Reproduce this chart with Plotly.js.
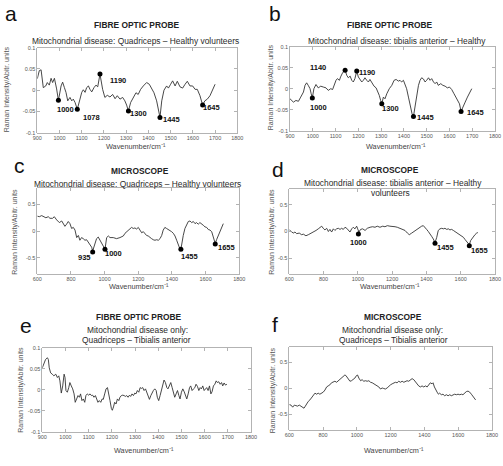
<!DOCTYPE html>
<html><head><meta charset="utf-8">
<script src="https://cdn.plot.ly/plotly-3.0.1.min.js"></script>
<style>html,body{margin:0;padding:0;background:#fff;overflow:hidden}#chart{width:503px;height:466px}</style>
</head><body><div id="chart"></div>
<script>
// ---------------- DATA ----------------
// Panel a: fibre optic probe, quadriceps - healthy
const aWave = [900,909,917,927,938,945,954,962,969,977,987,995,1007,1014,1022,1029,1037,1047,1055,1062,1070,1080,1092,1100,1107,1115,1122,1130,1137,1145,1155,1164,1172,1178,1182,1194,1204,1215,1227,1239,1250,1260,1272,1284,1294,1302,1310,1320,1332,1344,1354,1365,1377,1392,1404,1414,1425,1437,1446,1452,1460,1470,1482,1490,1500,1509,1520,1530,1542,1554,1565,1575,1587,1599,1610,1620,1632,1638,1644,1654,1665,1677,1689,1700];
const aInt = [0.027,0.046,0.048,0.006,0.010,0.018,0.012,0.028,0.018,0.028,0.003,-0.024,0.010,0.019,0.006,-0.005,-0.025,-0.017,-0.025,-0.021,-0.029,-0.045,-0.021,-0.005,0.001,-0.005,0.006,0.010,0.002,-0.004,0.006,0.012,0.008,0.024,0.038,0.002,-0.017,-0.012,-0.016,-0.010,-0.020,-0.013,-0.021,-0.017,-0.025,-0.035,-0.049,-0.029,-0.017,-0.006,-0.010,0.002,0.010,0.018,0.014,0.006,-0.006,-0.025,-0.050,-0.064,-0.025,0.000,0.010,0.005,0.014,0.022,0.010,0.021,0.008,0.005,0.014,0.021,0.010,0.010,0.002,0.002,-0.013,-0.025,-0.035,-0.025,-0.021,-0.013,0.002,0.014];
const aPeakWave = [995,1080,1182,1310,1452,1644];
const aPeakInt = [-0.0235,-0.045,0.038,-0.049,-0.064,-0.035];
const aPeakLabel = ['1000','1078','1190','1300','1445','1645'];

// Panel b: fibre optic probe, tibialis anterior - healthy
const bWave = [900,907,915,926,937,947,959,966,973,980,988,993,998,1005,1014,1024,1035,1046,1058,1068,1079,1087,1093,1102,1108,1117,1122,1131,1142,1149,1156,1164,1171,1178,1185,1193,1200,1207,1215,1222,1229,1237,1244,1251,1259,1269,1278,1285,1292,1298,1303,1310,1317,1325,1336,1347,1357,1366,1376,1383,1390,1398,1405,1412,1420,1427,1436,1442,1449,1456,1464,1471,1478,1486,1493,1500,1508,1515,1522,1530,1537,1544,1551,1562,1571,1581,1591,1600,1610,1620,1632,1644,1651,1658,1669,1679,1688,1698];
const bInt = [-0.024,-0.028,-0.032,-0.028,-0.030,-0.020,-0.008,0.008,0.014,0.008,0.000,-0.012,-0.022,0.000,0.010,0.002,0.006,0.004,0.002,-0.004,0.000,-0.002,0.008,0.020,0.024,0.020,0.028,0.038,0.044,0.032,0.026,0.030,0.020,0.016,0.024,0.042,0.028,0.022,0.016,0.020,0.026,0.020,0.016,0.022,0.014,0.006,0.002,-0.006,-0.016,-0.028,-0.036,-0.020,-0.024,-0.012,0.000,0.008,0.020,0.022,0.018,0.020,0.016,0.020,0.012,0.000,-0.020,-0.040,-0.060,-0.066,-0.044,-0.016,0.008,0.020,0.026,0.023,0.016,0.020,0.026,0.020,0.024,0.016,0.012,0.016,0.008,0.012,0.008,0.006,0.002,0.004,-0.002,-0.012,-0.024,-0.036,-0.054,-0.044,-0.032,-0.020,-0.010,0.000];
const bPeakWave = [998,1142,1193,1303,1442,1651];
const bPeakInt = [-0.022,0.044,0.042,-0.036,-0.066,-0.054];
const bPeakLabel = ['1000','1140','1190','1300','1445','1645'];

// Panel c: microscope, quadriceps - healthy
const cWave = [600,612,626,636,651,665,675,691,701,715,731,745,754,764,774,784,794,804,814,824,834,844,853,863,873,883,893,903,913,923,929,936,943,952,962,972,982,992,1002,1012,1022,1032,1051,1071,1091,1111,1121,1131,1141,1150,1160,1170,1180,1190,1200,1210,1220,1230,1240,1249,1259,1269,1279,1289,1299,1309,1319,1329,1339,1348,1358,1368,1378,1388,1398,1408,1418,1428,1438,1447,1453,1457,1467,1477,1487,1497,1507,1517,1527,1537,1546,1556,1566,1576,1586,1596,1606,1616,1626,1636,1645,1651,1657,1665,1675,1689,1705];
const cInt = [0.28,0.27,0.29,0.27,0.25,0.27,0.24,0.24,0.27,0.21,0.16,0.19,0.13,0.09,0.13,0.18,0.14,0.05,0.07,0.02,-0.12,-0.08,-0.17,-0.12,-0.14,-0.17,-0.16,-0.20,-0.24,-0.30,-0.37,-0.31,-0.23,-0.14,-0.11,-0.16,-0.22,-0.28,-0.34,-0.12,-0.09,-0.12,-0.12,-0.14,-0.12,-0.09,-0.04,-0.01,0.03,0.05,0.07,0.05,0.06,0.04,0.07,0.02,-0.03,-0.01,-0.06,-0.08,-0.09,-0.12,-0.14,-0.16,-0.17,-0.16,-0.17,-0.14,-0.08,0.02,0.07,0.05,0.03,0.02,-0.01,-0.04,-0.09,-0.17,-0.26,-0.33,-0.34,-0.26,-0.08,0.05,0.13,0.18,0.19,0.16,0.18,0.14,0.16,0.13,0.16,0.14,0.11,0.08,0.07,0.03,0.02,-0.01,-0.09,-0.16,-0.23,-0.16,-0.08,0.05,0.14];
const cPeakWave = [929,1002,1453,1657];
const cPeakInt = [-0.39,-0.34,-0.34,-0.24];
const cPeakLabel = ['935','1000','1455','1655'];

// Panel d: microscope, tibialis anterior - healthy
const dWave = [600,614,623,633,643,658,672,682,697,711,724,740,756,769,779,789,798,808,818,828,837,847,857,866,876,886,896,905,915,925,935,944,954,964,973,983,993,999,1006,1016,1028,1042,1055,1071,1086,1100,1113,1129,1145,1158,1172,1187,1203,1217,1230,1246,1261,1275,1289,1300,1314,1327,1343,1359,1372,1382,1392,1401,1411,1421,1430,1440,1450,1460,1469,1479,1489,1499,1508,1518,1528,1537,1547,1557,1567,1576,1586,1596,1606,1616,1625,1635,1645,1650,1658,1670,1683,1693,1700];
const dInt = [0.03,0.00,-0.03,-0.01,-0.04,-0.03,-0.06,-0.05,-0.08,-0.06,-0.04,-0.01,0.02,0.05,0.08,0.10,0.06,0.03,0.06,0.00,0.04,-0.01,0.05,0.02,0.05,0.06,0.04,0.06,0.04,0.08,0.06,0.02,-0.01,0.05,0.08,0.05,0.10,0.05,-0.01,0.04,0.05,0.02,0.06,0.08,0.09,0.08,0.10,0.08,0.10,0.09,0.11,0.10,0.10,0.09,0.08,0.06,0.04,0.02,-0.03,-0.06,-0.03,0.00,0.04,0.06,0.10,0.11,0.08,0.04,0.00,-0.04,-0.09,-0.14,-0.21,-0.11,0.02,0.05,0.06,0.05,0.06,0.04,0.05,0.03,0.04,0.02,0.00,-0.03,-0.04,-0.06,-0.09,-0.11,-0.15,-0.19,-0.22,-0.25,-0.17,-0.11,-0.06,-0.03,-0.02];
const dPeakWave = [1003,1450,1650];
const dPeakInt = [-0.045,-0.22,-0.27];
const dPeakLabel = ['1000','1455','1655'];

// Panel e: fibre optic probe, mitochondrial disease only
const eWave = [900,907,914,922,926,930,936,943,950,958,965,971,976,982,988,994,998,1002,1008,1014,1019,1025,1031,1037,1042,1048,1054,1060,1065,1071,1077,1083,1088,1094,1100,1106,1112,1117,1123,1129,1135,1140,1146,1152,1158,1163,1169,1175,1181,1186,1192,1198,1202,1207,1212,1218,1224,1230,1235,1241,1247,1253,1258,1264,1270,1276,1281,1287,1293,1299,1304,1310,1316,1322,1327,1333,1339,1345,1350,1356,1362,1368,1373,1379,1385,1391,1396,1402,1408,1414,1419,1425,1431,1437,1442,1448,1454,1460,1465,1471,1477,1483,1489,1494,1500,1506,1512,1517,1523,1529,1535,1540,1546,1552,1558,1563,1569,1575,1581,1586,1592,1598,1604,1609,1615,1621,1627,1632,1638,1644,1650,1655,1661,1667,1673,1678,1684,1690,1696];
const eInt = [0.052,0.064,0.072,0.076,0.072,0.052,0.040,0.037,0.033,0.037,0.029,0.033,0.021,-0.008,0.009,0.037,0.029,-0.002,-0.006,0.005,0.017,0.009,0.002,-0.010,-0.030,-0.022,-0.014,-0.018,-0.010,-0.026,-0.022,-0.030,-0.014,-0.010,-0.013,-0.010,-0.014,-0.013,-0.018,-0.014,-0.022,-0.030,-0.026,-0.030,-0.022,-0.023,-0.010,0.002,0.005,-0.006,-0.026,-0.045,-0.049,-0.041,-0.030,-0.034,-0.022,-0.026,-0.018,-0.014,-0.013,-0.014,-0.016,-0.014,-0.018,-0.013,-0.016,-0.010,-0.014,-0.008,-0.010,-0.002,-0.006,0.005,0.003,0.005,-0.002,0.002,-0.006,-0.018,-0.023,-0.014,-0.008,-0.002,0.002,-0.002,-0.018,-0.026,-0.014,0.002,0.013,0.023,0.017,0.005,0.002,0.009,0.017,0.005,-0.006,-0.018,-0.010,-0.002,-0.014,-0.022,-0.006,0.002,-0.005,-0.013,-0.022,-0.010,0.005,0.009,-0.002,0.002,0.005,0.013,0.008,-0.002,0.005,0.002,0.009,-0.002,0.002,0.005,-0.002,0.009,-0.010,-0.005,0.009,0.013,0.021,0.017,0.019,0.013,0.017,0.009,0.016,0.011,0.013];

// Panel f: microscope, mitochondrial disease only
const fWave = [600,610,620,630,639,649,659,669,679,687,695,702,712,722,732,742,752,762,771,781,791,801,811,821,830,840,850,860,870,880,890,899,909,919,929,935,943,951,959,968,978,988,998,1004,1012,1022,1031,1041,1051,1061,1071,1081,1091,1100,1110,1120,1130,1140,1150,1159,1169,1179,1189,1199,1209,1219,1228,1238,1248,1258,1268,1278,1288,1297,1307,1317,1327,1337,1347,1357,1366,1376,1386,1396,1406,1416,1425,1435,1445,1451,1459,1467,1475,1483,1490,1500,1510,1520,1530,1540,1550,1559,1569,1579,1589,1599,1609,1619,1628,1638,1648,1658,1668,1678,1687,1697,1703];
const fInt = [-0.31,-0.32,-0.36,-0.32,-0.33,-0.34,-0.32,-0.34,-0.37,-0.38,-0.34,-0.30,-0.25,-0.22,-0.17,-0.12,-0.09,-0.11,-0.09,-0.11,-0.09,-0.07,-0.03,0.03,0.05,0.07,0.11,0.12,0.14,0.12,0.15,0.17,0.20,0.23,0.26,0.25,0.22,0.17,0.14,0.15,0.17,0.20,0.25,0.26,0.20,0.15,0.17,0.14,0.15,0.14,0.15,0.12,0.11,0.09,0.07,0.06,0.03,-0.01,0.01,0.00,-0.01,0.01,0.05,0.07,0.09,0.11,0.12,0.11,0.14,0.12,0.14,0.12,0.14,0.15,0.14,0.17,0.19,0.17,0.12,0.07,0.05,0.03,0.05,0.03,0.05,0.03,0.06,0.11,0.09,0.11,0.03,-0.03,-0.07,-0.11,-0.09,-0.12,-0.11,-0.14,-0.12,-0.14,-0.12,-0.14,-0.12,-0.11,-0.12,-0.11,-0.12,-0.11,-0.12,-0.09,-0.06,-0.05,-0.07,-0.11,-0.15,-0.20,-0.22];

// Tick labels
const probeXTicks = [900,1000,1100,1200,1300,1400,1500,1600,1700,1800];
const probeYTicks = [-0.1,-0.05,0,0.05,0.1];
const probeYTickText = ['-0.1','-0.05','0','0.05','0.1'];
const scopeXTicks = [600,800,1000,1200,1400,1600,1800];
const scopeYTicks = [-0.5,0,0.5];
const scopeYTickText = ['-0.5','0','0.5'];

// Texts
const panelLetters = ['a','b','c','d','e','f'];
const panelHeads = ['FIBRE OPTIC PROBE','FIBRE OPTIC PROBE','MICROSCOPE','MICROSCOPE','FIBRE OPTIC PROBE','MICROSCOPE'];
const panelSubs = [
  ['Mitochondrial disease: Quadriceps \u2013 Healthy volunteers'],
  ['Mitochondrial disease: tibialis anterior \u2013 Healthy'],
  ['Mitochondrial disease: Quadriceps \u2013 Healthy volunteers'],
  ['Mitochondrial disease: tibialis anterior \u2013 Healthy','volunteers'],
  ['Mitochondrial disease only:','Quadriceps \u2013 Tibialis anterior'],
  ['Mitochondrial disease only:','Quadriceps \u2013 Tibialis anterior']
];
const xTitle = 'Wavenumber/cm\u207B\u00B9';
const yTitle = 'Raman Intensity/Abitr. units';

// ---------------- LAYOUT (pixel geometry) ----------------
const W = 503, H = 466;
const FONT = 'Liberation Sans, Arial, Helvetica, sans-serif';
const boxes = [
  {x0:37.3, x1:237.3, y0:47.7, y1:132.7},
  {x0:290,  x1:495,   y0:46.7, y1:130.7},
  {x0:37.3, x1:239.3, y0:188.3,y1:274},
  {x0:289.3,x1:495,   y0:189,  y1:274},
  {x0:42.3, x1:251,   y0:347.7,y1:431.7},
  {x0:289.3,x1:492,   y0:347,  y1:430}
];
const letterPos = [[11.3,13],[274.7,13.5],[19,165.5],[277.5,169.5],[26.3,325],[275,324.5]];
const headPos = [[137,25],[390,25],[140,170.7],[390,170],[139,316.7],[393.3,316.7]];
const subPos = [
  [[135.8,40.7]],
  [[396.7,40.7]],
  [[137.3,183.8]],
  [[393,183.3],[390.7,193.3]],
  [[137.5,330],[136.7,340]],
  [[392.8,330],[393.3,340]]
];
const xTitlePos = [[136.3,146.7],[395.5,146.7],[138.8,286.7],[390.3,286.7],[144,450],[394,450]];
const yTitlePos = [[7.3,89],[271.7,87.5],[15,231.7],[271.7,232],[20.7,390],[273.3,390]];
// label offsets (px) relative to the marked peak
const labelOffsets = [
  [[6.7,9],[14.3,7.7],[18.3,6],[10,2.7],[11.7,1.7],[9,2.3]],
  [[6,10],[-26.7,-2.3],[10.7,1.7],[9,5],[12.3,0.7],[14.7,1]],
  [[-7.7,5.7],[8.3,3.7],[9,6.7],[11.3,3.7]],
  [[0,8.3],[10,4],[10.7,4.3]],
  [], []
];

const curves = [[aWave,aInt],[bWave,bInt],[cWave,cInt],[dWave,dInt],[eWave,eInt],[fWave,fInt]];
const peaks = [[aPeakWave,aPeakInt,aPeakLabel],[bPeakWave,bPeakInt,bPeakLabel],[cPeakWave,cPeakInt,cPeakLabel],[dPeakWave,dPeakInt,dPeakLabel],null,null];
const isProbe = [true,true,false,false,true,false];

const px = p => p / W;
const py = p => 1 - p / H;

const traces = [];
const layout = {
  width: W, height: H,
  margin: {l:0, r:0, t:0, b:0},
  paper_bgcolor: '#ffffff', plot_bgcolor: '#ffffff',
  showlegend: false,
  font: {family: FONT, color: '#222'},
  annotations: []
};

for (let i = 0; i < 6; i++) {
  const sfx = i === 0 ? '' : String(i + 1);
  const xr = 'x' + sfx, yr = 'y' + sfx;
  const b = boxes[i];
  const probe = isProbe[i];
  const axCommon = {
    showline: true, linecolor: '#a0a0a0', linewidth: 0.8, mirror: 'ticks',
    ticks: 'inside', ticklen: 3, tickwidth: 0.8, tickcolor: '#a0a0a0',
    showgrid: false, zeroline: false, fixedrange: true,
    tickfont: {family: FONT, size: 5.5, color: '#555'}
  };
  layout['xaxis' + sfx] = Object.assign({}, axCommon, {
    domain: [px(b.x0), px(b.x1)], anchor: yr,
    range: probe ? [900, 1800] : [600, 1800],
    tickmode: 'array', tickvals: probe ? probeXTicks : scopeXTicks
  });
  layout['yaxis' + sfx] = Object.assign({}, axCommon, {
    domain: [py(b.y1), py(b.y0)], anchor: xr,
    range: probe ? [-0.1, 0.1] : [-0.8, 0.8],
    tickmode: 'array', tickvals: probe ? probeYTicks : scopeYTicks,
    ticktext: probe ? probeYTickText : scopeYTickText
  });
  traces.push({
    type: 'scatter', mode: 'lines', x: curves[i][0], y: curves[i][1],
    xaxis: xr, yaxis: yr, line: {color: '#333333', width: 0.9}, hoverinfo: 'skip'
  });
  if (peaks[i]) {
    const [pw, pi, pl] = peaks[i];
    traces.push({
      type: 'scatter', mode: 'markers', x: pw, y: pi, xaxis: xr, yaxis: yr,
      marker: {color: '#000', size: 5}, hoverinfo: 'skip'
    });
    pl.forEach((lab, k) => {
      const off = labelOffsets[i][k];
      layout.annotations.push({
        xref: xr, yref: yr, x: pw[k], y: pi[k], text: '<b>' + lab + '</b>',
        showarrow: true, arrowcolor: 'rgba(0,0,0,0)', arrowwidth: 0.1,
        ax: off[0], ay: off[1], xanchor: 'center', yanchor: 'middle',
        font: {family: FONT, size: 7.5, color: '#111'}
      });
    });
  }
  // panel letter
  layout.annotations.push({
    xref: 'paper', yref: 'paper', x: px(letterPos[i][0]), y: py(letterPos[i][1]),
    text: panelLetters[i], showarrow: false, xanchor: 'center', yanchor: 'middle',
    font: {family: FONT, size: 21, color: '#111'}
  });
  // heading
  layout.annotations.push({
    xref: 'paper', yref: 'paper', x: px(headPos[i][0]), y: py(headPos[i][1]),
    text: '<b>' + panelHeads[i] + '</b>', showarrow: false, xanchor: 'center', yanchor: 'middle',
    font: {family: FONT, size: 8.4, color: '#222222'}
  });
  panelSubs[i].forEach((s, k) => {
    layout.annotations.push({
      xref: 'paper', yref: 'paper', x: px(subPos[i][k][0]), y: py(subPos[i][k][1]),
      text: s, showarrow: false, xanchor: 'center', yanchor: 'middle',
      font: {family: FONT, size: 8.4, color: '#2a2a2a'}
    });
  });
  layout.annotations.push({
    xref: 'paper', yref: 'paper', x: px(xTitlePos[i][0]), y: py(xTitlePos[i][1]),
    text: xTitle, showarrow: false, xanchor: 'center', yanchor: 'middle',
    font: {family: FONT, size: 7.3, color: '#444444'}
  });
  layout.annotations.push({
    xref: 'paper', yref: 'paper', x: px(yTitlePos[i][0]), y: py(yTitlePos[i][1]),
    text: yTitle, showarrow: false, textangle: -90, xanchor: 'center', yanchor: 'middle',
    font: {family: FONT, size: 7, color: '#555555'}
  });
}

Plotly.newPlot('chart', traces, layout, {displayModeBar: false, staticPlot: true});
</script>
</body></html>
